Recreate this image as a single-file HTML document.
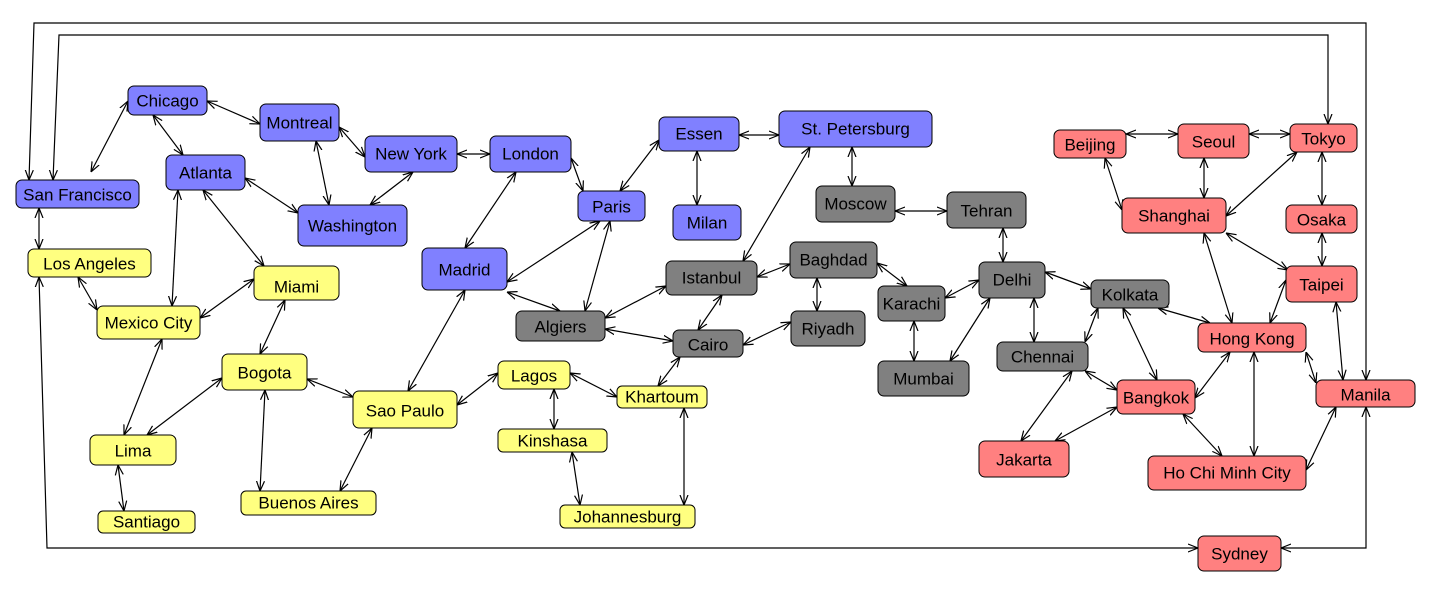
<!DOCTYPE html>
<html><head><meta charset="utf-8"><style>
html,body{margin:0;padding:0;background:#fff;}
svg{display:block;}
text{font-family:"Liberation Sans",sans-serif;font-size:17px;fill:#000;text-anchor:middle;dominant-baseline:central;}
.b{fill:#8080ff}.y{fill:#ffff80}.g{fill:#808080}.r{fill:#ff8080}
rect{stroke:#000;stroke-width:1}
line,polyline{stroke:#000;stroke-width:1.2;fill:none;marker-start:url(#a);marker-end:url(#a);}
</style></head><body>
<svg width="1433" height="601" viewBox="0 0 1433 601" xmlns="http://www.w3.org/2000/svg">
<defs><marker id="a" viewBox="0 0 10 10" refX="10" refY="5" markerWidth="10" markerHeight="10" markerUnits="userSpaceOnUse" orient="auto-start-reverse"><path d="M0,1 L10,5 L0,9" fill="none" stroke="#000" stroke-width="1.2"/></marker></defs>
<g>
<polyline points="53,180 59,35 1328,35 1328,124"/>
<polyline points="29,180 34,23 1366,23 1366,380"/>
<polyline points="39,277 47,548 1198,548"/>
<polyline points="1281,548 1366,548 1366,407"/>
<line x1="207" y1="101" x2="260" y2="124"/>
<line x1="128" y1="101" x2="91" y2="172"/>
<line x1="153" y1="115" x2="183" y2="155"/>
<line x1="339" y1="127" x2="365" y2="157"/>
<line x1="316" y1="141" x2="329" y2="205"/>
<line x1="245" y1="178" x2="298" y2="213"/>
<line x1="203" y1="190" x2="264" y2="266"/>
<line x1="178" y1="190" x2="172" y2="306"/>
<line x1="457" y1="154" x2="490" y2="154"/>
<line x1="413" y1="172" x2="370" y2="205"/>
<line x1="39" y1="208" x2="39" y2="249"/>
<line x1="78" y1="277" x2="97" y2="310"/>
<line x1="254" y1="279" x2="200" y2="318"/>
<line x1="285" y1="300" x2="260" y2="354"/>
<line x1="162" y1="339" x2="124" y2="435"/>
<line x1="147" y1="435" x2="222" y2="378"/>
<line x1="118" y1="465" x2="124" y2="511"/>
<line x1="265" y1="390" x2="260" y2="491"/>
<line x1="307" y1="379" x2="353" y2="397"/>
<line x1="372" y1="428" x2="340" y2="491"/>
<line x1="408" y1="391" x2="465" y2="290"/>
<line x1="457" y1="405" x2="498" y2="373"/>
<line x1="516" y1="172" x2="465" y2="248"/>
<line x1="571" y1="158" x2="583" y2="191"/>
<line x1="507" y1="282" x2="600" y2="221"/>
<line x1="507" y1="292" x2="560" y2="311"/>
<line x1="620" y1="191" x2="659" y2="140"/>
<line x1="610" y1="221" x2="585" y2="311"/>
<line x1="697" y1="151" x2="697" y2="205"/>
<line x1="739" y1="135" x2="779" y2="135"/>
<line x1="852" y1="147" x2="852" y2="186"/>
<line x1="810" y1="147" x2="743" y2="261"/>
<line x1="895" y1="211" x2="947" y2="211"/>
<line x1="666" y1="286" x2="605" y2="318"/>
<line x1="757" y1="277" x2="790" y2="264"/>
<line x1="722" y1="295" x2="698" y2="330"/>
<line x1="605" y1="329" x2="673" y2="341"/>
<line x1="743" y1="345" x2="791" y2="322"/>
<line x1="680" y1="357" x2="658" y2="386"/>
<line x1="817" y1="278" x2="817" y2="311"/>
<line x1="877" y1="263" x2="907" y2="286"/>
<line x1="1003" y1="228" x2="1003" y2="262"/>
<line x1="945" y1="298" x2="979" y2="280"/>
<line x1="914" y1="321" x2="914" y2="361"/>
<line x1="950" y1="361" x2="990" y2="298"/>
<line x1="1045" y1="272" x2="1091" y2="289"/>
<line x1="1034" y1="298" x2="1034" y2="342"/>
<line x1="554" y1="389" x2="554" y2="429"/>
<line x1="570" y1="373" x2="617" y2="397"/>
<line x1="572" y1="452" x2="580" y2="505"/>
<line x1="684" y1="408" x2="684" y2="505"/>
<line x1="1098" y1="308" x2="1085" y2="342"/>
<line x1="1123" y1="308" x2="1157" y2="380"/>
<line x1="1158" y1="308" x2="1210" y2="323"/>
<line x1="1072" y1="371" x2="1021" y2="441"/>
<line x1="1085" y1="371" x2="1117" y2="390"/>
<line x1="1055" y1="441" x2="1117" y2="407"/>
<line x1="1195" y1="398" x2="1230" y2="352"/>
<line x1="1183" y1="414" x2="1222" y2="456"/>
<line x1="1254" y1="352" x2="1254" y2="456"/>
<line x1="1232" y1="323" x2="1204" y2="233"/>
<line x1="1306" y1="352" x2="1316" y2="383"/>
<line x1="1122" y1="210" x2="1105" y2="158"/>
<line x1="1204" y1="198" x2="1204" y2="158"/>
<line x1="1226" y1="216" x2="1297" y2="152"/>
<line x1="1226" y1="233" x2="1288" y2="270"/>
<line x1="1126" y1="134" x2="1178" y2="134"/>
<line x1="1249" y1="134" x2="1290" y2="134"/>
<line x1="1322" y1="152" x2="1322" y2="205"/>
<line x1="1322" y1="233" x2="1322" y2="266"/>
<line x1="1270" y1="323" x2="1286" y2="280"/>
<line x1="1336" y1="302" x2="1343" y2="380"/>
<line x1="1336" y1="407" x2="1306" y2="470"/>
</g>
<g>
<rect class="b" x="128" y="86" width="79" height="29" rx="6"/><text x="167.5" y="101">Chicago</text>
<rect class="b" x="260" y="104" width="79" height="37" rx="6"/><text x="299.5" y="123">Montreal</text>
<rect class="b" x="365" y="136" width="92" height="36" rx="6"/><text x="411" y="154">New York</text>
<rect class="b" x="490" y="136" width="81" height="36" rx="6"/><text x="530.5" y="154">London</text>
<rect class="b" x="298" y="205" width="109" height="41" rx="6"/><text x="352.5" y="226">Washington</text>
<rect class="b" x="166" y="155" width="79" height="35" rx="6"/><text x="205.5" y="173">Atlanta</text>
<rect class="b" x="16" y="180" width="123" height="28" rx="6"/><text x="77.5" y="195">San Francisco</text>
<rect class="y" x="28" y="249" width="123" height="28" rx="6"/><text x="89.5" y="264">Los Angeles</text>
<rect class="y" x="254" y="266" width="85" height="34" rx="6"/><text x="296.5" y="287">Miami</text>
<rect class="y" x="97" y="306" width="103" height="33" rx="6"/><text x="148.5" y="323">Mexico City</text>
<rect class="y" x="222" y="354" width="85" height="36" rx="6"/><text x="264.5" y="373">Bogota</text>
<rect class="y" x="90" y="435" width="86" height="30" rx="6"/><text x="133" y="451">Lima</text>
<rect class="y" x="98" y="511" width="97" height="22" rx="5"/><text x="146.5" y="522">Santiago</text>
<rect class="y" x="241" y="491" width="135" height="24" rx="5"/><text x="308.5" y="503">Buenos Aires</text>
<rect class="y" x="353" y="391" width="104" height="37" rx="6"/><text x="405" y="411">Sao Paulo</text>
<rect class="b" x="422" y="248" width="85" height="42" rx="6"/><text x="464.5" y="270">Madrid</text>
<rect class="b" x="578" y="191" width="67" height="30" rx="6"/><text x="611.5" y="207">Paris</text>
<rect class="b" x="659" y="117" width="80" height="34" rx="6"/><text x="699" y="134">Essen</text>
<rect class="b" x="673" y="205" width="68" height="35" rx="6"/><text x="707" y="223">Milan</text>
<rect class="b" x="779" y="111" width="153" height="36" rx="6"/><text x="855.5" y="129">St. Petersburg</text>
<rect class="g" x="816" y="186" width="79" height="36" rx="6"/><text x="855.5" y="204">Moscow</text>
<rect class="g" x="947" y="192" width="79" height="36" rx="6"/><text x="986.5" y="211">Tehran</text>
<rect class="g" x="666" y="261" width="91" height="34" rx="6"/><text x="711.5" y="278">Istanbul</text>
<rect class="g" x="790" y="242" width="87" height="36" rx="6"/><text x="833.5" y="260">Baghdad</text>
<rect class="g" x="516" y="311" width="89" height="30" rx="6"/><text x="560.5" y="327">Algiers</text>
<rect class="g" x="673" y="330" width="70" height="27" rx="6"/><text x="708" y="345">Cairo</text>
<rect class="g" x="791" y="311" width="74" height="35" rx="6"/><text x="828" y="329">Riyadh</text>
<rect class="g" x="878" y="286" width="67" height="35" rx="6"/><text x="911.5" y="304">Karachi</text>
<rect class="g" x="979" y="262" width="66" height="36" rx="6"/><text x="1012" y="280">Delhi</text>
<rect class="g" x="878" y="361" width="91" height="35" rx="6"/><text x="923.5" y="379">Mumbai</text>
<rect class="g" x="1091" y="280" width="78" height="28" rx="6"/><text x="1130" y="295">Kolkata</text>
<rect class="g" x="997" y="342" width="91" height="29" rx="6"/><text x="1042.5" y="357">Chennai</text>
<rect class="y" x="498" y="361" width="72" height="28" rx="6"/><text x="534" y="376">Lagos</text>
<rect class="y" x="617" y="386" width="90" height="22" rx="5"/><text x="662" y="397">Khartoum</text>
<rect class="y" x="498" y="429" width="109" height="23" rx="5"/><text x="552.5" y="441">Kinshasa</text>
<rect class="y" x="560" y="505" width="135" height="23" rx="5"/><text x="627.5" y="517">Johannesburg</text>
<rect class="r" x="1054" y="130" width="72" height="28" rx="6"/><text x="1090" y="145">Beijing</text>
<rect class="r" x="1178" y="124" width="71" height="34" rx="6"/><text x="1213.5" y="142">Seoul</text>
<rect class="r" x="1290" y="124" width="67" height="28" rx="6"/><text x="1323.5" y="139">Tokyo</text>
<rect class="r" x="1122" y="198" width="104" height="35" rx="6"/><text x="1174" y="216">Shanghai</text>
<rect class="r" x="1286" y="205" width="71" height="28" rx="6"/><text x="1321.5" y="220">Osaka</text>
<rect class="r" x="1286" y="266" width="71" height="36" rx="6"/><text x="1321.5" y="285">Taipei</text>
<rect class="r" x="1198" y="323" width="108" height="29" rx="6"/><text x="1252" y="339">Hong Kong</text>
<rect class="r" x="1316" y="380" width="99" height="27" rx="6"/><text x="1365.5" y="395">Manila</text>
<rect class="r" x="1117" y="380" width="78" height="34" rx="6"/><text x="1156" y="398">Bangkok</text>
<rect class="r" x="979" y="441" width="90" height="36" rx="6"/><text x="1024" y="460">Jakarta</text>
<rect class="r" x="1148" y="456" width="158" height="34" rx="6"/><text x="1227" y="473">Ho Chi Minh City</text>
<rect class="r" x="1198" y="536" width="83" height="35" rx="6"/><text x="1239.5" y="554">Sydney</text>
</g>
</svg>
</body></html>
